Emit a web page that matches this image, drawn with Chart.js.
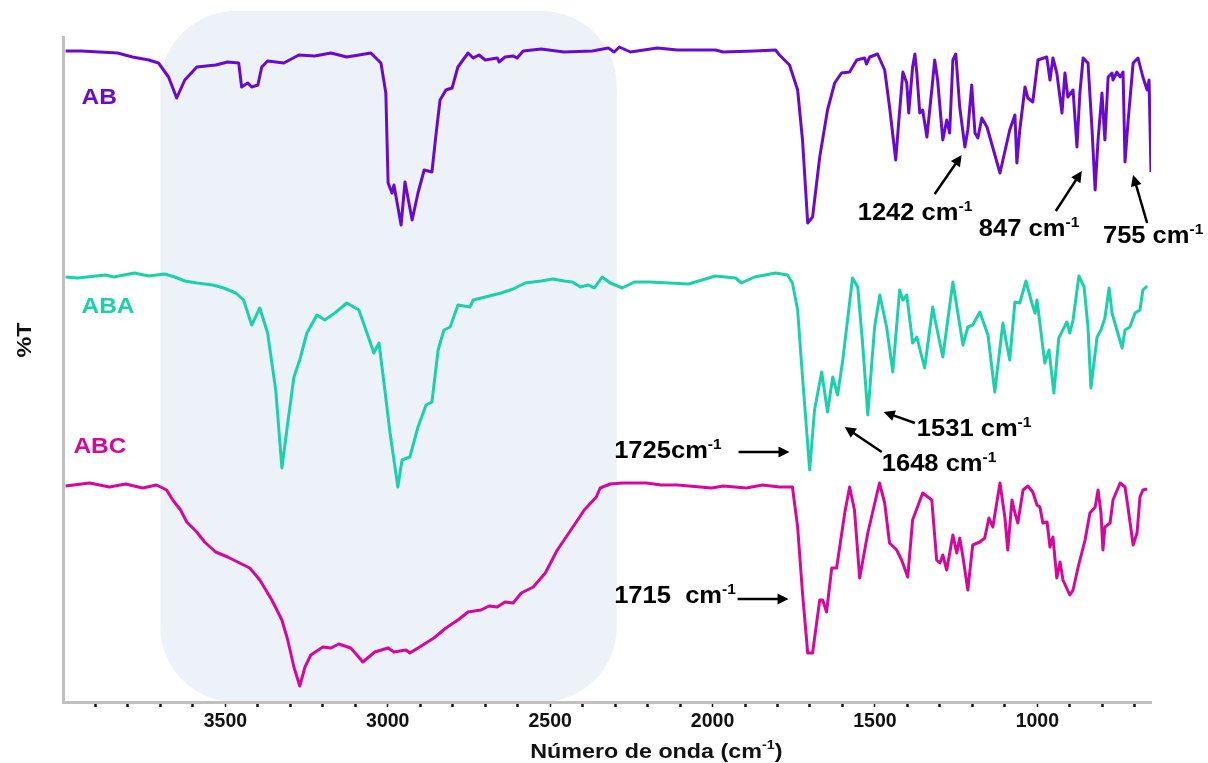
<!DOCTYPE html>
<html>
<head>
<meta charset="utf-8">
<script src="https://cdn.jsdelivr.net/npm/chart.js@4.4.1/dist/chart.umd.min.js"></script>
<style>
  html, body { margin: 0; padding: 0; background: #fff; }
  #wrap { width: 1208px; height: 763px; }
</style>
</head>
<body>
<div id="wrap"><canvas id="ftir" width="1208" height="763"></canvas></div>
<script>
// wavenumbers (cm-1) and %T (arbitrary, traces already offset)
const abWave = [3992,3943,3832,3786,3736,3706,3675,3650,3625,3588,3530,3493,3459,3450,3431,3419,3400,3388,3370,3320,3274,3225,3175,3126,3052,3021,3006,2999,2987,2981,2959,2947,2925,2907,2888,2864,2851,2839,2821,2802,2784,2753,2737,2719,2700,2663,2657,2639,2614,2602,2583,2528,2457,2370,2321,2303,2287,2253,2170,2108,1991,1967,1871,1806,1794,1763,1738,1723,1707,1692,1670,1646,1624,1603,1578,1556,1532,1526,1516,1492,1470,1455,1436,1427,1414,1402,1396,1384,1377,1371,1362,1353,1340,1325,1316,1307,1291,1279,1270,1260,1251,1239,1223,1214,1202,1192,1183,1171,1155,1115,1085,1069,1063,1054,1038,1029,1014,998,971,961,952,940,924,915,906,890,878,869,859,844,832,822,813,801,792,782,770,767,755,745,736,730,721,705,690,675,662,656,650];
const abT = [651,651,649,645,642,639,625,604,622,635,637,640,639,615,619,615,617,635,641,639,647,646,649,645,649,639,609,519,509,517,477,520,482,509,532,530,569,602,612,614,635,649,644,647,642,644,640,645,646,644,651,653,650,651,654,650,655,650,654,652,652,650,651,652,647,637,612,562,479,485,545,592,619,629,630,642,644,638,645,648,632,595,542,579,630,619,589,635,648,629,589,592,565,612,642,622,562,582,569,642,648,595,555,572,617,569,564,584,575,529,572,587,539,572,615,604,600,642,645,622,644,629,589,629,605,612,555,609,644,639,575,512,562,609,562,625,629,622,630,625,630,540,579,639,644,625,612,622,530];

const abaWave = [3992,3955,3869,3844,3780,3736,3687,3656,3625,3588,3539,3505,3468,3444,3419,3394,3370,3345,3326,3308,3289,3271,3249,3218,3194,3163,3126,3089,3064,3043,3027,3009,2993,2969,2956,2932,2907,2882,2864,2845,2827,2808,2784,2747,2737,2700,2651,2614,2577,2528,2491,2457,2432,2407,2383,2364,2340,2315,2278,2241,2195,2133,2074,1991,1929,1911,1871,1806,1769,1754,1738,1723,1701,1686,1664,1646,1630,1615,1599,1569,1553,1538,1522,1501,1485,1464,1445,1424,1414,1402,1384,1371,1347,1322,1316,1291,1260,1229,1214,1199,1177,1152,1131,1106,1094,1085,1069,1054,1035,1017,1007,1001,977,964,949,934,909,900,890,872,856,844,835,816,804,792,779,770,755,739,730,715,699,684,675,662];
const abaT = [425,424,427,425,429,426,428,425,421,419,417,414,409,402,377,394,369,312,234,279,325,342,369,387,382,389,399,392,369,349,359,312,269,215,242,245,275,297,300,352,372,375,397,395,402,405,409,413,419,421,423,421,420,415,417,414,425,419,414,420,420,419,418,426,424,419,425,429,427,419,392,325,232,292,330,290,325,307,342,424,415,359,287,375,407,375,330,412,402,407,359,365,334,395,384,345,420,357,375,377,390,367,310,379,357,342,400,399,421,399,389,402,339,352,309,364,380,369,382,426,415,375,314,365,372,384,414,389,372,354,372,375,389,392,412,416];

const abcWave = [3992,3918,3857,3807,3755,3712,3681,3662,3638,3619,3588,3564,3530,3493,3456,3425,3394,3357,3326,3308,3289,3271,3255,3237,3200,3175,3151,3114,3095,3077,3040,2999,2981,2944,2932,2907,2858,2821,2784,2753,2713,2688,2663,2639,2614,2589,2552,2515,2478,2432,2395,2358,2346,2315,2278,2204,2158,2108,2003,1967,1896,1846,1794,1754,1738,1723,1707,1692,1670,1661,1649,1633,1618,1593,1578,1563,1547,1522,1486,1470,1455,1433,1418,1399,1384,1353,1325,1310,1300,1291,1279,1260,1248,1239,1230,1214,1199,1177,1162,1149,1137,1115,1100,1091,1078,1069,1060,1044,1029,1014,1001,992,983,970,961,952,940,930,921,900,890,875,853,838,822,813,804,798,792,776,767,745,730,721,705,693,684,675,662];
const abcT = [216,219,215,218,214,217,212,202,192,180,170,160,150,145,139,134,122,102,82,62,35,16,35,47,55,54,58,54,47,40,50,54,50,52,49,54,64,74,82,90,92,96,95,100,99,109,115,129,152,174,192,205,214,218,219,219,217,217,214,216,214,217,215,215,175,109,49,49,102,102,90,134,134,189,215,192,124,169,219,199,159,152,142,125,182,209,202,142,139,147,132,167,149,164,147,112,157,160,164,184,175,219,185,152,202,189,179,212,216,210,197,195,179,180,155,165,124,140,122,107,112,134,162,189,195,212,189,152,175,179,202,219,215,195,157,169,205,212,213];

// sample names and where their labels sit (wavenumber, %T)
const seriesNames = ["AB", "ABA", "ABC"];
const seriesColors = ["#6a0ad0", "#1ad2a9", "#d6079a"];
const nameAt = [[3943, 604], [3943, 395], [3968, 255]];

// peak callouts: text, text start, arrow tail, arrow head
const noteText = ["1242 cm", "847 cm", "755 cm", "1725cm", "1648 cm", "1531 cm", "1715  cm"];
const noteAt = [[1553, 490], [1180, 474], [798, 467], [2303, 252], [1479, 239], [1371, 274], [2303, 107]];
const noteFrom = [[1316, 508], [943, 491], [662, 479], [1920, 250], [1479, 250], [1377, 279], [1923, 103]];
const noteTo = [[1233, 547], [863, 531], [705, 527], [1763, 250], [1593, 275], [1473, 290], [1766, 103]];

// shaded O-H / C-H region
const bandFrom = 3700;
const bandTo = 2295;
const bandTop = 691;

const xTitle = "Número de onda (cm";
const xTitleCenter = 2173;
const yTitle = "%T";
const yTitleCenter = 362;

const FONT = "'Liberation Sans', Arial, sans-serif";
const STRETCH = 1.11; // the figure's lettering is a bit wider than the font

// text with a raised "-1" after it, starting at x (or centred on x)
function supText(ctx, text, sup, x, yMid, size, after, centred) {
  const small = Math.round(size * 0.6);
  ctx.font = "bold " + size + "px " + FONT;
  const w1 = ctx.measureText(text).width;
  const w3 = after ? ctx.measureText(after).width : 0;
  ctx.font = "bold " + small + "px " + FONT;
  const w2 = ctx.measureText(sup).width;
  const total = (w1 + w2 + w3) * STRETCH;
  const x0 = centred ? x - total / 2 : x;
  ctx.save();
  ctx.translate(x0, yMid + size * 0.36);
  ctx.scale(STRETCH, 1);
  ctx.textBaseline = "alphabetic";
  ctx.textAlign = "left";
  ctx.font = "bold " + size + "px " + FONT;
  ctx.fillText(text, 0, 0);
  ctx.font = "bold " + small + "px " + FONT;
  ctx.fillText(sup, w1, -size * 0.42);
  if (after) {
    ctx.font = "bold " + size + "px " + FONT;
    ctx.fillText(after, w1 + w2, 0);
  }
  ctx.restore();
}

function plainText(ctx, text, x, yMid, size, rot) {
  ctx.save();
  ctx.translate(x, yMid);
  if (rot) ctx.rotate(rot);
  ctx.scale(STRETCH, 1);
  ctx.font = "bold " + size + "px " + FONT;
  ctx.textBaseline = "middle";
  ctx.textAlign = rot ? "center" : "left";
  ctx.fillText(text, 0, 0);
  ctx.restore();
}

function arrow(ctx, x1, y1, x2, y2) {
  const a = Math.atan2(y2 - y1, x2 - x1);
  const L = 11, H = 5.5;
  ctx.beginPath();
  ctx.moveTo(x1, y1);
  ctx.lineTo(x2 - Math.cos(a) * L * 0.8, y2 - Math.sin(a) * L * 0.8);
  ctx.stroke();
  ctx.beginPath();
  ctx.moveTo(x2, y2);
  ctx.lineTo(x2 - Math.cos(a) * L - Math.sin(a) * H, y2 - Math.sin(a) * L + Math.cos(a) * H);
  ctx.lineTo(x2 - Math.cos(a) * L + Math.sin(a) * H, y2 - Math.sin(a) * L - Math.cos(a) * H);
  ctx.closePath();
  ctx.fill();
}

function pairs(xs, ys) {
  return xs.map((x, i) => ({ x: x, y: ys[i] }));
}

const bandPlugin = {
  id: "band",
  beforeDraw(chart) {
    const { ctx, chartArea, scales } = chart;
    const x1 = scales.x.getPixelForValue(bandFrom);
    const x2 = scales.x.getPixelForValue(bandTo);
    const y1 = scales.y.getPixelForValue(bandTop);
    const y2 = chartArea.bottom;
    ctx.save();
    ctx.fillStyle = "#edf2f9";
    ctx.beginPath();
    ctx.roundRect(x1, y1, x2 - x1, y2 - y1, 75);
    ctx.fill();
    ctx.restore();
  }
};

const notesPlugin = {
  id: "notes",
  afterDraw(chart) {
    const { ctx, chartArea, scales } = chart;
    const sx = v => scales.x.getPixelForValue(v);
    const sy = v => scales.y.getPixelForValue(v);
    ctx.save();
    // sample names
    seriesNames.forEach((name, i) => {
      ctx.fillStyle = seriesColors[i];
      plainText(ctx, name, sx(nameAt[i][0]), sy(nameAt[i][1]), 22);
    });
    // callouts
    ctx.fillStyle = "#000";
    ctx.strokeStyle = "#000";
    ctx.lineWidth = 2.5;
    noteText.forEach((t, i) => {
      supText(ctx, t, "-1", sx(noteAt[i][0]), sy(noteAt[i][1]), 23);
      arrow(ctx, sx(noteFrom[i][0]), sy(noteFrom[i][1]), sx(noteTo[i][0]), sy(noteTo[i][1]));
    });
    // axis titles
    ctx.fillStyle = "#111";
    supText(ctx, xTitle, "-1", sx(xTitleCenter), chartArea.bottom + 48, 21, ")", true);
    plainText(ctx, yTitle, 25, sy(yTitleCenter), 21, -Math.PI / 2);
    ctx.restore();
  }
};

new Chart(document.getElementById("ftir"), {
  type: "line",
  data: {
    datasets: [
      { label: seriesNames[0], data: pairs(abWave, abT), borderColor: seriesColors[0] },
      { label: seriesNames[1], data: pairs(abaWave, abaT), borderColor: seriesColors[1] },
      { label: seriesNames[2], data: pairs(abcWave, abcT), borderColor: seriesColors[2] }
    ]
  },
  options: {
    responsive: false,
    animation: false,
    devicePixelRatio: 1,
    layout: { padding: { top: 37, right: 57, left: 0, bottom: 0 } },
    elements: {
      line: { borderWidth: 3, tension: 0, borderJoinStyle: "round", fill: false },
      point: { radius: 0 }
    },
    plugins: {
      legend: { display: false },
      tooltip: { enabled: false }
    },
    scales: {
      x: {
        type: "linear",
        reverse: true,
        min: 650,
        max: 4000,
        afterFit: s => { s.height = 61; },
        border: { display: true, color: "#c0c0c0", width: 3 },
        grid: {
          drawOnChartArea: false,
          drawTicks: true,
          tickLength: 5,
          tickColor: c => (c.tick && c.tick.value % 100 === 0 && c.tick.value < 4000) ? "#111" : "rgba(0,0,0,0)",
          tickWidth: c => (c.tick && c.tick.value % 500 === 0) ? 1.5 : 2.5
        },
        ticks: {
          stepSize: 100,
          autoSkip: false,
          maxRotation: 0,
          includeBounds: false,
          padding: 3,
          color: "#111",
          font: { family: FONT, size: 19.5, weight: "bold" },
          callback: v => (v % 500 === 0 && v < 4000) ? String(v) : ""
        }
      },
      y: {
        type: "linear",
        min: 0,
        max: 665,
        afterFit: s => { s.width = 63; },
        border: { display: true, color: "#c0c0c0", width: 3 },
        grid: { display: false },
        ticks: { display: false }
      }
    }
  },
  plugins: [bandPlugin, notesPlugin]
});
</script>
</body>
</html>
